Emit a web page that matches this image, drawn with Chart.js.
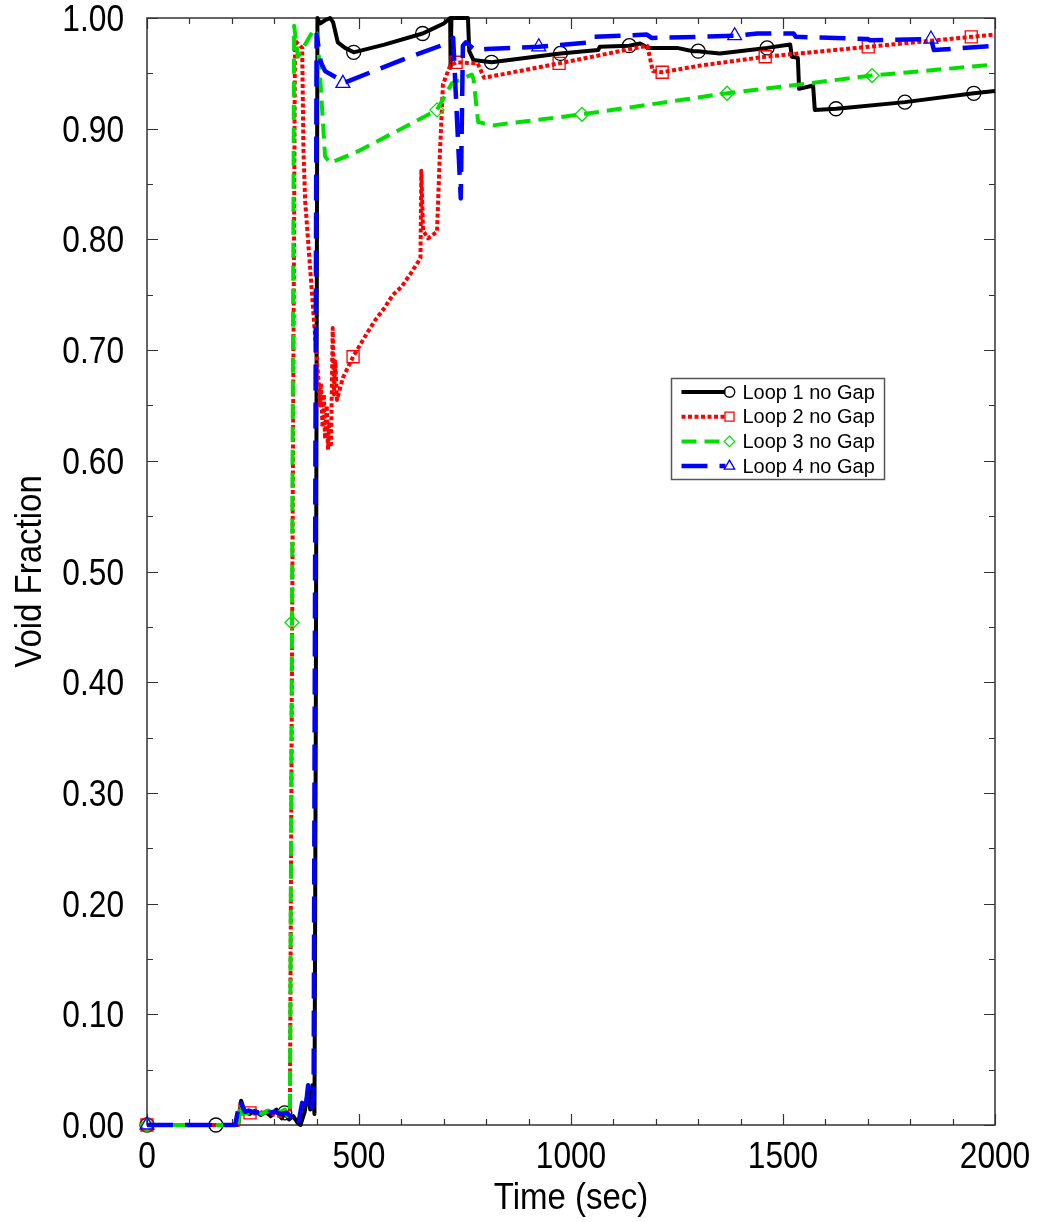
<!DOCTYPE html>
<html>
<head>
<meta charset="utf-8">
<script src="https://cdn.jsdelivr.net/npm/chart.js@4/dist/chart.umd.min.js"></script>
<style>
  html, body { margin: 0; padding: 0; background: #fff; }
  #wrap { width: 1037px; height: 1222px; position: relative; }
</style>
</head>
<body>
<div id="wrap"><canvas id="c" width="1037" height="1222"></canvas></div>
<script>
// ---- data: time (s) and void fraction for each loop ----
const loop1Time = [0, 162.5, 215, 222, 230, 242, 255, 268, 280, 292, 305, 318, 325, 335, 345, 355, 362, 372, 380, 385, 390, 395, 398, 402, 408, 420, 432, 439, 450, 467, 487.5, 560, 650, 672, 700, 715, 716, 718, 757, 760, 770, 812.5, 975, 1064, 1068, 1137.5, 1163, 1182, 1250, 1288, 1300, 1321, 1351, 1462.5, 1517, 1521, 1535, 1538, 1571, 1575, 1625, 1651, 1787.5, 1950, 2000];
const loop1Void = [0, 0, 0, 0.022, 0.012, 0.010, 0.013, 0.009, 0.012, 0.008, 0.014, 0.006, 0.011, 0.005, 0.008, 0.002, 0.000, 0.012, 0.032, 0.014, 0.036, 0.010, 0.35, 1.000, 0.995, 0.998, 1.000, 0.996, 0.978, 0.973, 0.969, 0.976, 0.986, 0.990, 0.995, 1.000, 0.955, 1.000, 1.000, 0.970, 0.962, 0.960, 0.968, 0.971, 0.974, 0.975, 0.977, 0.973, 0.973, 0.970, 0.970, 0.969, 0.968, 0.973, 0.976, 0.965, 0.964, 0.936, 0.939, 0.917, 0.918, 0.919, 0.924, 0.932, 0.934];
const loop1Marks = [0, 162.5, 325, 487.5, 650, 812.5, 975, 1137.5, 1300, 1462.5, 1625, 1787.5, 1950];

const loop2Time = [0, 215, 220, 228, 243, 260, 275, 290, 300, 315, 325, 332, 337, 343, 349, 353, 366, 369, 373, 397, 401, 404, 408, 410, 414, 417, 420, 424, 427, 430, 434, 438, 441, 444, 448, 455, 462, 486, 500, 520, 540, 560, 580, 600, 620, 645, 647, 651, 663, 684, 690, 698, 715, 729, 780, 795, 972, 1180, 1193, 1215, 1304, 1458, 1701, 1944, 2000];
const loop2Void = [0, 0, 0.018, 0.010, 0.011, 0.010, 0.012, 0.012, 0.009, 0.008, 0.013, 0.006, 0.010, 0.50, 0.980, 0.978, 0.973, 0.880, 0.835, 0.710, 0.690, 0.675, 0.650, 0.670, 0.630, 0.660, 0.620, 0.650, 0.610, 0.635, 0.615, 0.720, 0.660, 0.690, 0.655, 0.665, 0.675, 0.694, 0.703, 0.716, 0.728, 0.738, 0.750, 0.757, 0.768, 0.783, 0.862, 0.808, 0.801, 0.807, 0.870, 0.940, 0.957, 0.960, 0.959, 0.946, 0.959, 0.975, 0.952, 0.951, 0.957, 0.965, 0.974, 0.983, 0.985];
const loop2Marks = [0, 243, 486, 729, 972, 1215, 1458, 1701, 1944];

const loop3Time = [0, 215, 220, 228, 240, 255, 270, 285, 300, 315, 325, 332, 337, 342, 347, 356, 394, 402, 420, 432, 500, 600, 684, 719, 738, 766, 770, 781, 816, 1026, 1368, 1710, 2000];
const loop3Void = [0, 0, 0.020, 0.010, 0.011, 0.012, 0.010, 0.013, 0.011, 0.012, 0.014, 0.008, 0.010, 0.454, 0.993, 0.965, 0.990, 0.985, 0.875, 0.869, 0.880, 0.900, 0.917, 0.941, 0.944, 0.949, 0.945, 0.906, 0.903, 0.913, 0.932, 0.948, 0.958];
const loop3Marks = [0, 342, 684, 1026, 1368, 1710];

const loop4Time = [0, 208, 219, 231, 240, 257, 270, 278, 285, 288, 300, 315, 330, 338, 342, 356, 366, 373, 380, 389, 393, 400, 410, 420, 448, 462, 600, 700, 722, 740, 745, 752, 774, 800, 924, 1045, 1052, 1179, 1190, 1304, 1386, 1440, 1525, 1530, 1700, 1705, 1849, 1856, 2000];
const loop4Void = [0, 0, 0.022, 0.012, 0.013, 0.011, 0.012, 0.010, 0.009, 0.011, 0.012, 0.010, 0.011, 0.008, 0.003, 0.000, 0.020, 0.011, 0.036, 0.016, 0.030, 0.985, 0.960, 0.952, 0.946, 0.941, 0.962, 0.976, 0.982, 0.837, 0.975, 0.978, 0.971, 0.972, 0.974, 0.978, 0.983, 0.985, 0.982, 0.983, 0.984, 0.986, 0.986, 0.983, 0.981, 0.980, 0.981, 0.971, 0.975];
const loop4Marks = [0, 462, 924, 1386, 1849];

const seriesLabels = ['Loop 1 no Gap', 'Loop 2 no Gap', 'Loop 3 no Gap', 'Loop 4 no Gap'];
const xTickValues = [0, 500, 1000, 1500, 2000];
const yTickValues = [0, 0.1, 0.2, 0.3, 0.4, 0.5, 0.6, 0.7, 0.8, 0.9, 1.0];
const xMinorStep = 100;
const yMinorStep = 0.05;
const xTitle = 'Time (sec)';
const yTitle = 'Void Fraction';

// ---- styling ----
const FONT = '"Liberation Sans", Arial, Helvetica, sans-serif';
const NARROW = 0.88;   // horizontal squeeze of the axis lettering

function pts(t, v) { return t.map((x, i) => ({ x: x, y: v[i] })); }

function lineSet(label, t, v, marks, color, dash, width, pointStyle, radius, order) {
  return {
    label: label,
    data: pts(t, v),
    borderColor: color,
    borderWidth: width,
    borderDash: dash,
    borderCapStyle: 'butt',
    borderJoinStyle: 'round',
    tension: 0,
    fill: false,
    pointStyle: pointStyle,
    pointBorderColor: color,
    pointBackgroundColor: 'rgba(0,0,0,0)',
    pointBorderWidth: 1.3,
    pointRadius: ctx => (ctx.raw && marks.includes(ctx.raw.x)) ? radius : 0,
    pointHoverRadius: 0,
    markerRadius: radius,
    clip: false,
    order: order
  };
}

const datasets = [
  lineSet(seriesLabels[0], loop1Time, loop1Void, loop1Marks, '#000000', [], 4, 'circle', 7, 4),
  lineSet(seriesLabels[1], loop2Time, loop2Void, loop2Marks, '#ff0000', [4, 2.5], 4, 'rect', 8.5, 3),
  lineSet(seriesLabels[2], loop3Time, loop3Void, loop3Marks, '#00e000', [15, 8], 4, 'rectRot', 7, 2),
  lineSet(seriesLabels[3], loop4Time, loop4Void, loop4Marks, '#0000ff', [26, 12], 4.5, 'triangle', 8, 1)
];

// frame around the plot with inward major/minor ticks on all four sides
const frameTicks = {
  id: 'frameTicks',
  beforeDatasetsDraw(chart) {
    const { ctx, chartArea: a, scales: { x, y } } = chart;
    ctx.save();
    ctx.strokeStyle = '#333';
    ctx.lineWidth = 1.2;
    ctx.beginPath();
    for (let t = x.min; t <= x.max + 1e-6; t += xMinorStep) {
      const px = Math.round(x.getPixelForValue(t)) + 0.5;
      const major = xTickValues.some(v => Math.abs(v - t) < 1e-6);
      const len = major ? 11 : 6;
      ctx.moveTo(px, a.bottom); ctx.lineTo(px, a.bottom - len);
      ctx.moveTo(px, a.top); ctx.lineTo(px, a.top + len);
    }
    for (let i = 0; i * yMinorStep <= y.max + 1e-6; i++) {
      const v = i * yMinorStep;
      const py = Math.round(y.getPixelForValue(v)) + 0.5;
      const major = yTickValues.some(w => Math.abs(w - v) < 1e-6);
      const len = major ? 11 : 6;
      ctx.moveTo(a.left, py); ctx.lineTo(a.left + len, py);
      ctx.moveTo(a.right, py); ctx.lineTo(a.right - len, py);
    }
    ctx.stroke();
    ctx.lineWidth = 1.5;
    ctx.strokeRect(a.left, a.top, a.right - a.left, a.bottom - a.top);
    ctx.restore();
  }
};

// tick labels and axis titles in a slightly condensed face, placed from the scales
function squeezedText(ctx, text, x, y, align, rotate) {
  ctx.save();
  ctx.translate(x, y);
  if (rotate) ctx.rotate(-Math.PI / 2);
  ctx.scale(NARROW, 1);
  ctx.textAlign = align;
  ctx.textBaseline = 'alphabetic';
  ctx.fillText(text, 0, 0);
  ctx.restore();
}

const axisText = {
  id: 'axisText',
  afterDraw(chart) {
    const { ctx, chartArea: a, scales: { x, y } } = chart;
    ctx.save();
    ctx.fillStyle = '#000';
    ctx.font = '36px ' + FONT;
    xTickValues.forEach(v => squeezedText(ctx, String(v), x.getPixelForValue(v), a.bottom + 43, 'center'));
    yTickValues.forEach(v => squeezedText(ctx, v.toFixed(2), a.left - 23, y.getPixelForValue(v) + 13, 'right'));
    ctx.font = '37.5px ' + FONT;
    squeezedText(ctx, xTitle, (a.left + a.right) / 2, a.bottom + 84, 'center');
    squeezedText(ctx, yTitle, 41, (a.top + a.bottom) / 2, 'center', true);
    ctx.restore();
  }
};

// boxed legend inside the plot area
const boxLegend = {
  id: 'boxLegend',
  afterDatasetsDraw(chart) {
    const { ctx, scales: { x, y } } = chart;
    const left = Math.round(x.getPixelForValue(1236)) + 0.5;
    const top = Math.round(y.getPixelForValue(0.6748)) + 0.5;
    const w = 213, h = 101, rowH = 24.7;
    ctx.save();
    ctx.fillStyle = '#fff';
    ctx.fillRect(left, top, w, h);
    ctx.strokeStyle = '#555';
    ctx.lineWidth = 1.5;
    ctx.strokeRect(left, top, w, h);
    chart.data.datasets.forEach((ds, i) => {
      const cy = top + 13.5 + i * rowH;
      const x0 = left + 10, x1 = left + 58;
      ctx.strokeStyle = ds.borderColor;
      ctx.lineWidth = ds.borderWidth;
      ctx.setLineDash(ds.borderDash);
      ctx.lineCap = 'butt';
      ctx.beginPath();
      ctx.moveTo(x0, cy); ctx.lineTo(x1 - 4, cy);
      ctx.stroke();
      ctx.setLineDash([]);
      ctx.fillStyle = 'rgba(0,0,0,0)';
      ctx.strokeStyle = ds.borderColor;
      ctx.lineWidth = 1.3;
      Chart.helpers.drawPoint(ctx, {
        pointStyle: ds.pointStyle,
        radius: ds.markerRadius * 0.75,
        rotation: 0,
        borderWidth: 1.3
      }, x1, cy);
      ctx.fillStyle = '#000';
      ctx.font = '20px ' + FONT;
      ctx.textBaseline = 'middle';
      ctx.textAlign = 'left';
      ctx.fillText(ds.label, left + 71, cy + 1);
    });
    ctx.restore();
  }
};

Chart.defaults.font.family = FONT;
Chart.defaults.color = '#000';

new Chart(document.getElementById('c'), {
  type: 'line',
  data: { datasets: datasets },
  options: {
    responsive: false,
    animation: false,
    events: [],
    layout: { padding: { top: 18, right: 42, left: 0, bottom: 0 } },
    plugins: {
      legend: { display: false },
      tooltip: { enabled: false }
    },
    scales: {
      x: {
        type: 'linear',
        min: 0, max: 2000,
        afterBuildTicks: s => { s.ticks = xTickValues.map(v => ({ value: v })); },
        ticks: { display: false },
        grid: { display: false, drawTicks: false },
        border: { display: false },
        title: { display: false, text: xTitle },
        afterFit: s => { s.height = 97; s.paddingLeft = 0; s.paddingRight = 0; }
      },
      y: {
        type: 'linear',
        min: 0, max: 1,
        afterBuildTicks: s => { s.ticks = yTickValues.map(v => ({ value: v })); },
        ticks: { display: false },
        grid: { display: false, drawTicks: false },
        border: { display: false },
        title: { display: false, text: yTitle },
        afterFit: s => { s.width = 147; s.paddingTop = 0; s.paddingBottom = 0; }
      }
    }
  },
  plugins: [frameTicks, axisText, boxLegend]
});
</script>
</body>
</html>
